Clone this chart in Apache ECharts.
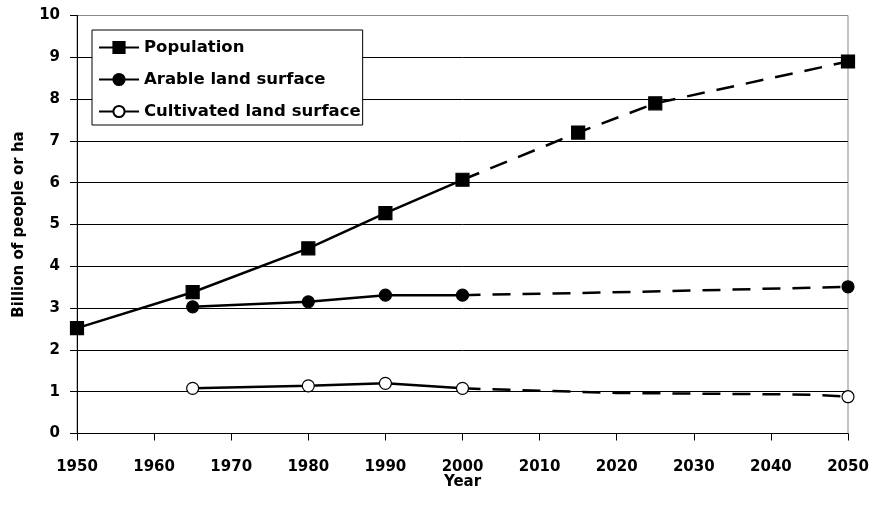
<!DOCTYPE html>
<html>
<head>
<meta charset="utf-8">
<script src="https://cdn.jsdelivr.net/npm/echarts@6/dist/echarts.min.js"></script>
<style>html,body{margin:0;padding:0;background:#fff;}#c{width:872px;height:515px;}</style>
</head>
<body>
<div id="c"></div>
<script>
// ---- data ----
var popYears = [1950, 1965, 1980, 1990, 2000];
var popValues = [2.52, 3.38, 4.43, 5.27, 6.07];
var popProjYears = [2000, 2015, 2025, 2050];
var popProjValues = [6.07, 7.2, 7.9, 8.9];
var popProjMarked = [false, true, true, true];

var arableYears = [1965, 1980, 1990, 2000];
var arableValues = [3.03, 3.15, 3.31, 3.31];
var arableProjYears = [2000, 2015, 2030, 2050];
var arableProjValues = [3.31, 3.36, 3.42, 3.51];
var arableProjMarked = [false, false, false, true];

var cultYears = [1965, 1980, 1990, 2000];
var cultValues = [1.08, 1.14, 1.2, 1.08];
var cultProjYears = [2000, 2020, 2045, 2050];
var cultProjValues = [1.08, 0.97, 0.93, 0.88];
var cultProjMarked = [false, false, false, true];

var seriesNames = ['Population', 'Arable land surface', 'Cultivated land surface'];
var xTicks = [1950, 1960, 1970, 1980, 1990, 2000, 2010, 2020, 2030, 2040, 2050];
var yTicks = [0, 1, 2, 3, 4, 5, 6, 7, 8, 9, 10];

function pairs(xs, ys, marked) {
  return xs.map(function (x, i) {
    var d = { value: [x, ys[i]] };
    if (marked && !marked[i]) d.symbol = 'none';
    return d;
  });
}

var FONT = '"DejaVu Sans", "Liberation Sans", Arial, sans-serif';
var lineW = 2.5;
var dash = [18, 12];

var styles = [
  { symbol: 'rect', size: 13, fill: '#000' },
  { symbol: 'circle', size: 12, fill: '#000' },
  { symbol: 'circle', size: 12, fill: '#fff' }
];

function solid(name, xs, ys, st) {
  return {
    name: name, type: 'line', data: pairs(xs, ys),
    symbol: st.symbol, symbolSize: st.size, showAllSymbol: true,
    lineStyle: { color: '#000', width: lineW },
    itemStyle: { color: st.fill, borderColor: '#000', borderWidth: 1.2, opacity: 1 },
    emphasis: { disabled: true }, z: 3, animation: false
  };
}
function dashed(name, xs, ys, marked, st) {
  return {
    name: name + ' (proj)', type: 'line', data: pairs(xs, ys, marked),
    symbol: st.symbol, symbolSize: st.size, showAllSymbol: true,
    lineStyle: { color: '#000', width: lineW, type: dash },
    itemStyle: { color: st.fill, borderColor: '#000', borderWidth: 1.2, opacity: 1 },
    emphasis: { disabled: true }, z: 2, animation: false
  };
}

var splitColors = yTicks.map(function (v, i) { return i === yTicks.length - 1 ? '#888' : '#000'; });

var option = {
  animation: false,
  grid: { left: 77, right: 24, top: 15.5, bottom: 81.5, show: true, borderColor: '#888', borderWidth: 1, containLabel: false },
  legend: {
    data: seriesNames,
    orient: 'vertical', left: 92, top: 30,
    padding: [9, 2, 5, 6],
    itemWidth: 40, itemHeight: 14, itemGap: 15,
    borderColor: '#000', borderWidth: 1, backgroundColor: '#fff',
    textStyle: { fontFamily: FONT, fontWeight: 'bold', fontSize: 16.5, color: '#000', lineHeight: 16 },
    selectedMode: false
  },
  xAxis: {
    type: 'value', min: xTicks[0], max: xTicks[xTicks.length - 1], interval: 10,
    name: 'Year', nameLocation: 'middle', nameGap: 41, nameMoveOverlap: false,
    nameTextStyle: { fontFamily: FONT, fontWeight: 'bold', fontSize: 15, color: '#000' },
    axisLine: { show: true, onZero: false, lineStyle: { color: '#000', width: 1 } },
    axisTick: { show: true, inside: false, length: 7, lineStyle: { color: '#000' } },
    axisLabel: { fontFamily: FONT, fontWeight: 'bold', fontSize: 15, color: '#000', margin: 26,
      formatter: function (v) { return String(v); } },
    splitLine: { show: false }
  },
  yAxis: {
    type: 'value', min: yTicks[0], max: yTicks[yTicks.length - 1], interval: 1,
    name: 'Billion of people or ha', nameLocation: 'middle', nameGap: 50, nameRotate: 90, nameMoveOverlap: false,
    nameTextStyle: { fontFamily: FONT, fontWeight: 'bold', fontSize: 15, color: '#000' },
    axisLine: { show: true, lineStyle: { color: '#000', width: 1 } },
    axisTick: { show: true, inside: false, length: 7, lineStyle: { color: '#000' } },
    axisLabel: { fontFamily: FONT, fontWeight: 'bold', fontSize: 15, color: '#000', margin: 17 },
    splitLine: { show: true, lineStyle: { color: splitColors, width: 1 } }
  },
  series: [
    solid(seriesNames[0], popYears, popValues, styles[0]),
    solid(seriesNames[1], arableYears, arableValues, styles[1]),
    solid(seriesNames[2], cultYears, cultValues, styles[2]),
    dashed(seriesNames[0], popProjYears, popProjValues, popProjMarked, styles[0]),
    dashed(seriesNames[1], arableProjYears, arableProjValues, arableProjMarked, styles[1]),
    dashed(seriesNames[2], cultProjYears, cultProjValues, cultProjMarked, styles[2])
  ]
};

var chart = echarts.init(document.getElementById('c'), null, { renderer: 'canvas' });
chart.setOption(option);
</script>
</body>
</html>
